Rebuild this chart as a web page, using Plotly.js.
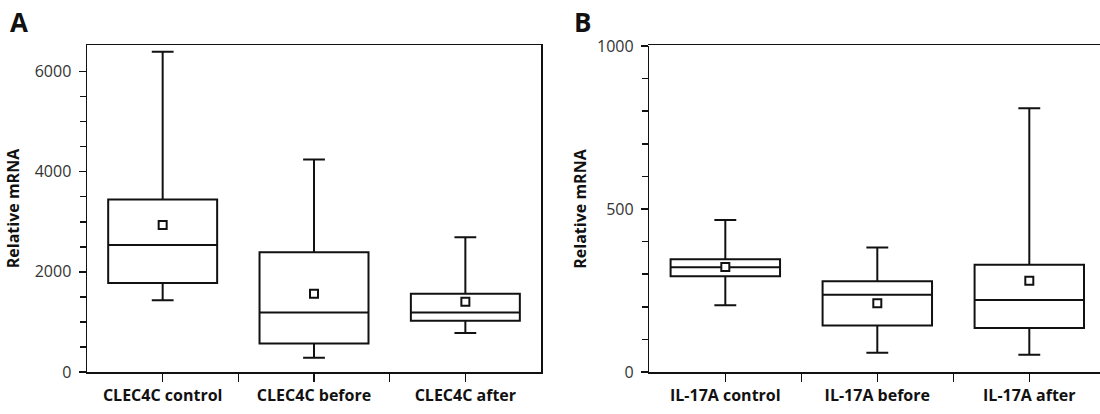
<!DOCTYPE html>
<html><head><meta charset="utf-8">
<script src="https://cdn.plot.ly/plotly-3.0.1.min.js"></script>
<style>html,body{margin:0;padding:0;background:#fff}#chart{width:1100px;height:414px}</style>
</head><body><div id="chart"></div>
<script>
// Panel A: CLEC4C
var catsA = ["CLEC4C control", "CLEC4C before", "CLEC4C after"];
var lowA = [1435, 287, 781];
var q1A = [1775, 567, 1021];
var medA = [2536, 1188, 1188];
var q3A = [3444, 2389, 1562];
var highA = [6394, 4245, 2690];
var meanA = [2937, 1562, 1402];

// Panel B: IL-17A
var catsB = ["IL-17A control", "IL-17A before", "IL-17A after"];
var lowB = [205, 59, 53];
var q1B = [294, 143, 135];
var medB = [321, 237, 221];
var q3B = [346, 278, 329];
var highB = [466, 382, 809];
var meanB = [322, 211, 280];

var yTicksA = [0, 2000, 4000, 6000];
var yTicksB = [0, 500, 1000];

var FONT = "Open Sans, Noto Sans, sans-serif";
var idxA = catsA.map(function(c, i){ return i; });
var idxB = catsB.map(function(c, i){ return i; });

function boxTrace(idx, low, q1, med, q3, high, xa, ya) {
  return {
    type: "box", x: idx, q1: q1, median: med, q3: q3,
    lowerfence: low, upperfence: high,
    xaxis: xa, yaxis: ya, width: 0.72, whiskerwidth: 0.2,
    fillcolor: "#ffffff", line: {color: "#111111", width: 2},
    boxpoints: false, hoverinfo: "skip", showlegend: false
  };
}
function meanTrace(idx, mean, xa, ya) {
  return {
    type: "scatter", mode: "markers", x: idx, y: mean, xaxis: xa, yaxis: ya,
    marker: {symbol: "square", size: 8, color: "#ffffff", line: {color: "#111111", width: 2}},
    hoverinfo: "skip", showlegend: false
  };
}

var data = [
  boxTrace(idxA, lowA, q1A, medA, q3A, highA, "x", "y"),
  meanTrace(idxA, meanA, "x", "y"),
  boxTrace(idxB, lowB, q1B, medB, q3B, highB, "x2", "y2"),
  meanTrace(idxB, meanB, "x2", "y2")
];

var minorA = [];
for (var v = 500; v <= 6000; v += 500) minorA.push(v);

var axisCommon = {
  showline: true, linecolor: "#111111", linewidth: 1.5,
  ticks: "outside", tickcolor: "#111111", tickwidth: 1.5,
  showgrid: false, zeroline: false, fixedrange: true
};
function xAxis(cats, idx, domain, range) {
  return Object.assign({}, axisCommon, {
    domain: domain, range: range, mirror: true, ticklen: 8,
    tickvals: idx, ticktext: cats, ticklabelstandoff: 0,
    tickfont: {family: FONT, size: 16, color: "#111111", weight: "bold"},
    minor: {tickvals: idx.slice(1).map(function(i){ return i - 0.5; }), ticks: "outside", ticklen: 8, tickwidth: 1.5, tickcolor: "#111111"}
  });
}
function yAxis(ticks, range, domain, mirror, minor, anchor, standoff) {
  return Object.assign({}, axisCommon, {
    domain: domain, range: range, mirror: mirror, ticklen: 7, anchor: anchor,
    tickvals: ticks, ticklabelstandoff: 4,
    tickfont: {family: FONT, size: 16, color: "#333333"},
    minor: minor,
    title: {text: "Relative mRNA", standoff: standoff, font: {family: FONT, size: 16, color: "#111111", weight: "bold"}}
  });
}

var layout = {
  width: 1100, height: 414,
  margin: {l: 87, r: 0, t: 45, b: 42},
  paper_bgcolor: "#ffffff", plot_bgcolor: "#ffffff",
  xaxis: xAxis(catsA, idxA, [0, 0.4482], [-0.5, 2.5]),
  yaxis: yAxis(yTicksA, [0, 6530], [0, 1], true, {tickvals: minorA, ticks: "outside", ticklen: 6, tickwidth: 1.5, tickcolor: "#111111"}, "x", 11),
  xaxis2: xAxis(catsB, idxB, [0.5551, 1], [-0.5, -0.5 + (1100 - 649.3) / 152]),
  yaxis2: yAxis(yTicksB, [0, 1000], [0, 0.997], false, {dtick: 100, ticks: "outside", ticklen: 6, tickwidth: 1.5, tickcolor: "#111111"}, "x2", 6),
  annotations: [
    {text: "A", xref: "paper", yref: "paper", x: -0.078, y: 1.13, xanchor: "left", yanchor: "top", showarrow: false, font: {family: FONT, size: 26, color: "#111111", weight: "bold"}},
    {text: "B", xref: "paper", yref: "paper", x: 0.479, y: 1.13, xanchor: "left", yanchor: "top", showarrow: false, font: {family: FONT, size: 26, color: "#111111", weight: "bold"}}
  ]
};

Plotly.newPlot("chart", data, layout, {displayModeBar: false, staticPlot: true});
</script>
</body></html>
